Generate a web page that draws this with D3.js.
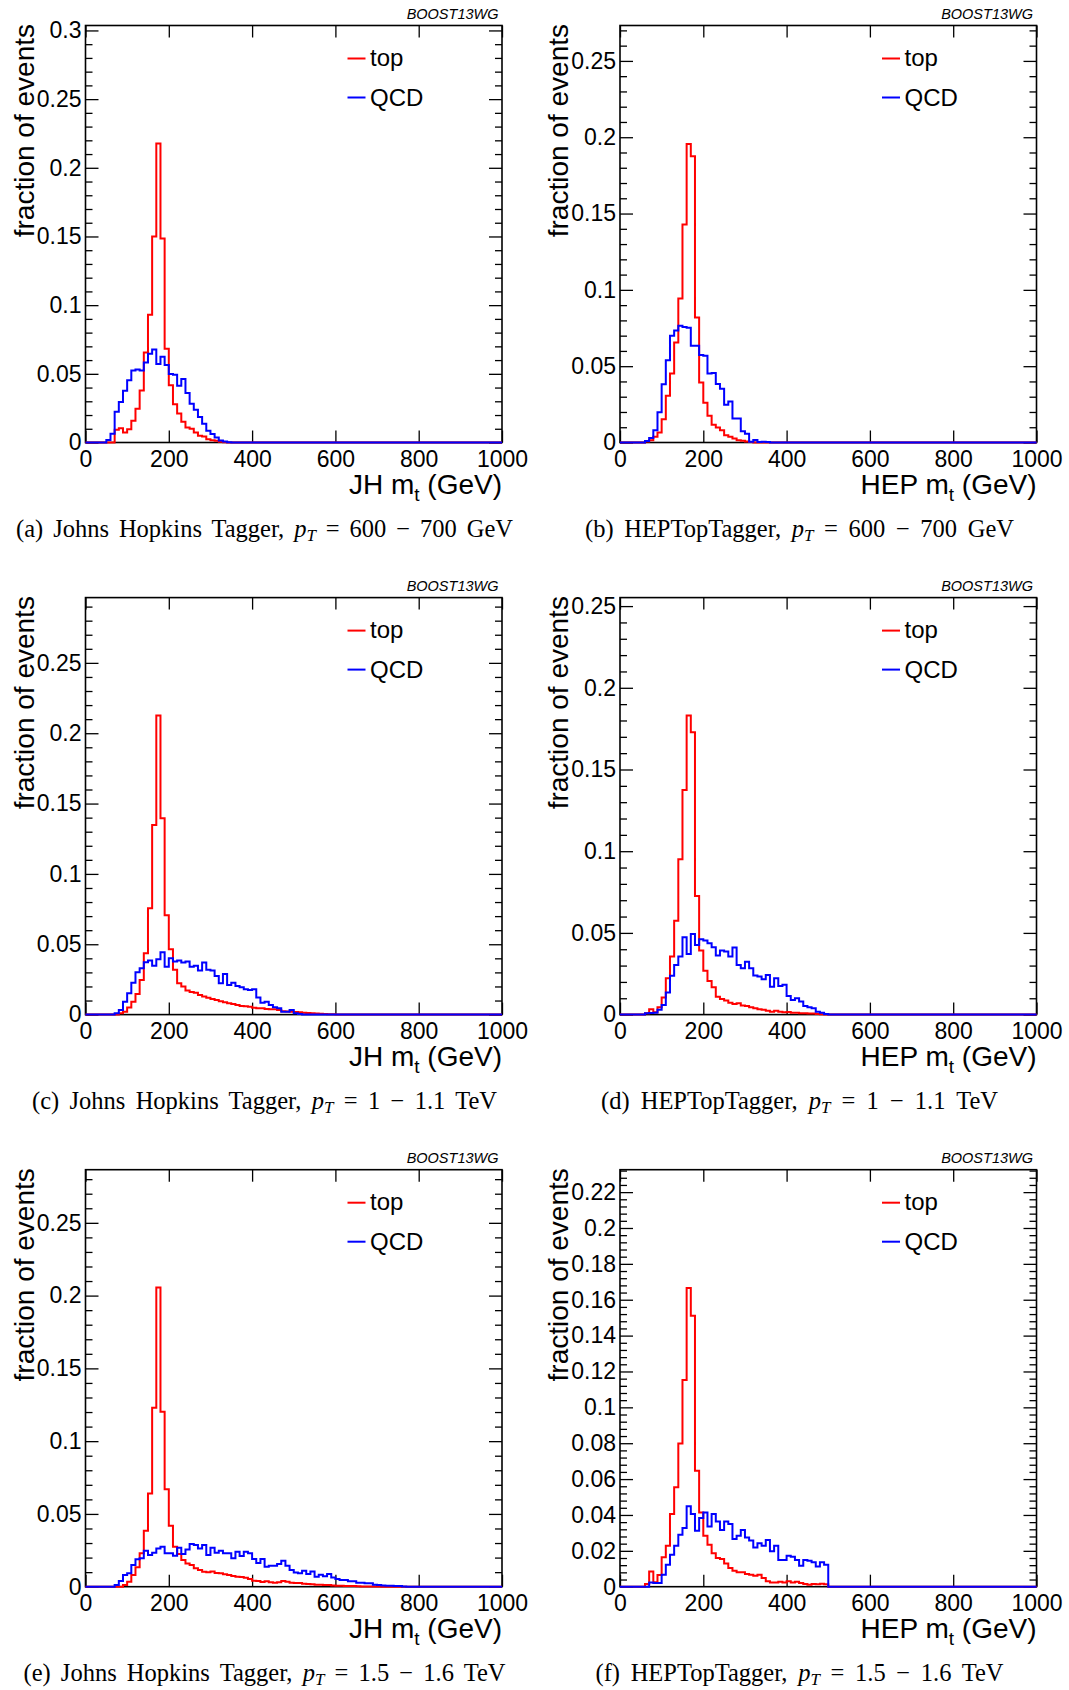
<!DOCTYPE html>
<html>
<head>
<meta charset="utf-8">
<script src="https://cdn.jsdelivr.net/npm/d3@7"></script>
<style>
body { margin: 0; background: #fff; }
svg text { font-family: "Liberation Sans", Arial, sans-serif; }
</style>
</head>
<body>
<div id="fig"></div>
<script>
// --- data: fraction of events per 10 GeV mass bin, values start at *Start (GeV) ---
const binWidth = 10, massMax = 1000;
const xTickValues = [0, 200, 400, 600, 800, 1000];

const jh600TopStart = 70;
const jh600Top = [0.0092, 0.0104, 0.0073, 0.0097, 0.0158, 0.0245, 0.0379, 0.0656, 0.0931, 0.1499, 0.2177, 0.1485,
  0.0683, 0.0416, 0.0279, 0.0211, 0.0151, 0.0109, 0.0100, 0.0073, 0.0049, 0.0044, 0.0024, 0.0017, 0.0012, 0.0005, 0.0002];
const jh600QcdStart = 50;
const jh600Qcd = [0.0019, 0.0063, 0.0224, 0.0294, 0.0377, 0.0454, 0.0525, 0.0532, 0.0525, 0.0583, 0.0646, 0.0678,
  0.0571, 0.0625, 0.0564, 0.0498, 0.0493, 0.0413, 0.0462, 0.0360, 0.0282, 0.0238, 0.0185, 0.0136, 0.0085, 0.0061,
  0.0036, 0.0015, 0.0007, 0.0002];

const hep600TopStart = 60;
const hep600Top = [0.0007, 0.0015, 0.0037, 0.0066, 0.0153, 0.0306, 0.0452, 0.0655, 0.0943, 0.1428, 0.1955, 0.1876,
  0.0819, 0.0393, 0.0260, 0.0175, 0.0116, 0.0098, 0.0081, 0.0048, 0.0037, 0.0026, 0.0015, 0.0011, 0.0007, 0.0004];
const hep600QcdStart = 60;
const hep600Qcd = [0.0010, 0.0030, 0.0080, 0.0198, 0.0382, 0.0539, 0.0699, 0.0733, 0.0765, 0.0756, 0.0751, 0.0634,
  0.0634, 0.0574, 0.0568, 0.0452, 0.0456, 0.0383, 0.0352, 0.0248, 0.0268, 0.0158, 0.0157, 0.0073, 0.0058, 0.0005,
  0.0016, 0.0004, 0.0005, 0.0003];

const jh1000TopStart = 80;
const jh1000Top = [0.0010, 0.0020, 0.0050, 0.0092, 0.0147, 0.0246, 0.0436, 0.0756, 0.1348, 0.2126, 0.1396, 0.0706,
  0.0464, 0.0318, 0.0223, 0.0200, 0.0171, 0.0160, 0.0156, 0.0140, 0.0128, 0.0120, 0.0110, 0.0104, 0.0095, 0.0088,
  0.0080, 0.0075, 0.0068, 0.0062, 0.0060, 0.0055, 0.0048, 0.0045, 0.0045, 0.0040, 0.0038, 0.0038, 0.0032, 0.0024,
  0.0022, 0.0021, 0.0018, 0.0016, 0.0014, 0.0012, 0.0010, 0.0008, 0.0006, 0.0004, 0.0003, 0.0002];
const jh1000QcdStart = 70;
const jh1000Qcd = [0.0009, 0.0033, 0.0092, 0.0152, 0.0227, 0.0301, 0.0329, 0.0372, 0.0384, 0.0348, 0.0393, 0.0443,
  0.0341, 0.0400, 0.0377, 0.0384, 0.0370, 0.0377, 0.0341, 0.0348, 0.0313, 0.0370, 0.0318, 0.0313, 0.0275, 0.0223,
  0.0289, 0.0211, 0.0227, 0.0204, 0.0194, 0.0180, 0.0175, 0.0180, 0.0121, 0.0085, 0.0092, 0.0069, 0.0052, 0.0045,
  0.0021, 0.0021, 0.0033, 0.0009, 0.0005];

const hep1000TopStart = 60;
const hep1000Top = [0.0008, 0.0033, 0.0014, 0.0045, 0.0104, 0.0222, 0.0355, 0.0575, 0.0951, 0.1375, 0.1830, 0.1728,
  0.0726, 0.0392, 0.0269, 0.0206, 0.0167, 0.0110, 0.0096, 0.0086, 0.0073, 0.0065, 0.0069, 0.0055, 0.0053, 0.0045,
  0.0039, 0.0033, 0.0029, 0.0024, 0.0018, 0.0024, 0.0018, 0.0014, 0.0016, 0.0012, 0.0012, 0.0008, 0.0008, 0.0006,
  0.0006, 0.0004, 0.0002];
const hep1000QcdStart = 60;
const hep1000Qcd = [0.0008, 0.0010, 0.0012, 0.0029, 0.0059, 0.0135, 0.0237, 0.0304, 0.0355, 0.0473, 0.0371, 0.0494,
  0.0426, 0.0461, 0.0453, 0.0437, 0.0412, 0.0361, 0.0392, 0.0386, 0.0355, 0.0410, 0.0304, 0.0284, 0.0324, 0.0284,
  0.0239, 0.0233, 0.0216, 0.0243, 0.0171, 0.0222, 0.0175, 0.0182, 0.0114, 0.0090, 0.0100, 0.0080, 0.0053, 0.0045,
  0.0039, 0.0018, 0.0012, 0.0004];

const jh1500TopStart = 90;
const jh1500Top = [0.0011, 0.0034, 0.0080, 0.0133, 0.0229, 0.0385, 0.0641, 0.1230, 0.2056, 0.1202, 0.0669, 0.0419,
  0.0275, 0.0224, 0.0183, 0.0160, 0.0149, 0.0126, 0.0114, 0.0102, 0.0100, 0.0104, 0.0094, 0.0092, 0.0085, 0.0080,
  0.0073, 0.0069, 0.0066, 0.0062, 0.0053, 0.0041, 0.0039, 0.0032, 0.0037, 0.0030, 0.0027, 0.0030, 0.0039, 0.0034,
  0.0027, 0.0025, 0.0025, 0.0021, 0.0018, 0.0016, 0.0014, 0.0014, 0.0011, 0.0011, 0.0009, 0.0007, 0.0007, 0.0005,
  0.0005, 0.0005, 0.0003, 0.0002, 0.0002, 0.0002, 0.0001, 0.0001];
const jh1500QcdStart = 70;
const jh1500Qcd = [0.0011, 0.0039, 0.0080, 0.0092, 0.0149, 0.0188, 0.0195, 0.0247, 0.0218, 0.0234, 0.0263, 0.0275,
  0.0229, 0.0229, 0.0213, 0.0268, 0.0224, 0.0256, 0.0293, 0.0286, 0.0263, 0.0286, 0.0218, 0.0268, 0.0234, 0.0247,
  0.0229, 0.0229, 0.0195, 0.0240, 0.0211, 0.0240, 0.0229, 0.0190, 0.0163, 0.0190, 0.0137, 0.0144, 0.0144, 0.0156,
  0.0179, 0.0144, 0.0114, 0.0098, 0.0092, 0.0110, 0.0087, 0.0105, 0.0069, 0.0082, 0.0071, 0.0087, 0.0064, 0.0053,
  0.0046, 0.0046, 0.0037, 0.0037, 0.0027, 0.0027, 0.0023, 0.0023, 0.0014, 0.0011, 0.0009, 0.0007, 0.0007, 0.0005,
  0.0005, 0.0002];

const hep1500TopStart = 60;
const hep1500Top = [0.0015, 0.0085, 0.0025, 0.0065, 0.0164, 0.0229, 0.0405, 0.0554, 0.0799, 0.1152, 0.1665, 0.1511,
  0.0647, 0.0414, 0.0284, 0.0234, 0.0186, 0.0160, 0.0154, 0.0130, 0.0104, 0.0089, 0.0080, 0.0080, 0.0071, 0.0067,
  0.0061, 0.0067, 0.0048, 0.0030, 0.0024, 0.0024, 0.0028, 0.0024, 0.0030, 0.0024, 0.0028, 0.0020, 0.0015, 0.0011,
  0.0015, 0.0013, 0.0017, 0.0013];
const hep1500QcdStart = 70;
const hep1500Qcd = [0.0024, 0.0020, 0.0020, 0.0067, 0.0123, 0.0178, 0.0229, 0.0290, 0.0327, 0.0448, 0.0405, 0.0312,
  0.0383, 0.0414, 0.0335, 0.0405, 0.0364, 0.0316, 0.0364, 0.0349, 0.0266, 0.0284, 0.0316, 0.0275, 0.0257, 0.0219,
  0.0242, 0.0229, 0.0260, 0.0197, 0.0229, 0.0149, 0.0149, 0.0173, 0.0167, 0.0149, 0.0117, 0.0149, 0.0145, 0.0136,
  0.0112, 0.0136, 0.0123];

const panelLetters = ["(a)", "(b)", "(c)", "(d)", "(e)", "(f)"];
const taggerTitles = ["JH", "HEP", "JH", "HEP", "JH", "HEP"];
const taggerNames = ["Johns Hopkins Tagger", "HEPTopTagger", "Johns Hopkins Tagger", "HEPTopTagger",
  "Johns Hopkins Tagger", "HEPTopTagger"];
const ptRanges = ["600 \u2212 700 GeV", "600 \u2212 700 GeV", "1 \u2212 1.1 TeV", "1 \u2212 1.1 TeV",
  "1.5 \u2212 1.6 TeV", "1.5 \u2212 1.6 TeV"];
const yAxisMax = [0.3036, 0.2732, 0.2964, 0.2552, 0.2865, 0.2325];
const yMajorStep = [0.05, 0.05, 0.05, 0.05, 0.05, 0.02];

// --- layout ---
const width = 1069, height = 1690;
const colLeft = [85.5, 620];
const rowBottom = [442.5, 1014.6, 1586.7];
const plotW = 416.5, plotH = 417;
const captionCenter = [264.5, 799.5];
const captionWidth = [497, 429, 465, 397, 482, 408];

const panels = [
  {top: jh600Top, topStart: jh600TopStart, qcd: jh600Qcd, qcdStart: jh600QcdStart},
  {top: hep600Top, topStart: hep600TopStart, qcd: hep600Qcd, qcdStart: hep600QcdStart},
  {top: jh1000Top, topStart: jh1000TopStart, qcd: jh1000Qcd, qcdStart: jh1000QcdStart},
  {top: hep1000Top, topStart: hep1000TopStart, qcd: hep1000Qcd, qcdStart: hep1000QcdStart},
  {top: jh1500Top, topStart: jh1500TopStart, qcd: jh1500Qcd, qcdStart: jh1500QcdStart},
  {top: hep1500Top, topStart: hep1500TopStart, qcd: hep1500Qcd, qcdStart: hep1500QcdStart}
];

function fullBins(start, vals) {
  const n = massMax / binWidth, off = start / binWidth;
  const pts = d3.range(n).map(i => [i * binWidth, (i - off >= 0 && i - off < vals.length) ? vals[i - off] : 0]);
  pts.push([massMax, 0]);
  return pts;
}

function styleAxis(g, fontSize) {
  g.select('path.domain').remove();
  g.selectAll('line').attr('stroke', '#000').attr('stroke-width', 1.3);
  g.attr('font-family', null).attr('font-size', fontSize);
  g.selectAll('text').attr('fill', '#000');
}

function drawPanel(svg, p, i) {
  const col = i % 2, row = Math.floor(i / 2);
  const left = colLeft[col], bottom = rowBottom[row], top = bottom - plotH, right = left + plotW;
  const x = d3.scaleLinear().domain([0, massMax]).range([left, right]);
  const y = d3.scaleLinear().domain([0, yAxisMax[i]]).range([bottom, top]);

  const step = yMajorStep[i], minor = step / 5;
  const nMaj = Math.floor(yAxisMax[i] / step + 1e-6);
  const majors = d3.range(nMaj + 1).map(k => +(k * step).toFixed(4));
  const nMin = Math.floor(yAxisMax[i] / minor + 1e-6);
  const minors = d3.range(nMin + 1).filter(k => k % 5 !== 0).map(k => k * minor);
  const fmt = v => String(+v.toFixed(4));

  // frame
  svg.append('rect')
    .attr('x', left).attr('y', top).attr('width', plotW).attr('height', plotH)
    .attr('fill', 'none').attr('stroke', '#000').attr('stroke-width', 1.6);

  // axes (ROOT style: ticks point inward)
  svg.append('g').attr('transform', 'translate(' + left + ',0)')
    .call(d3.axisLeft(y).tickValues(majors).tickSize(-13).tickPadding(4).tickFormat(fmt))
    .call(g => styleAxis(g, 23));
  svg.append('g').attr('transform', 'translate(' + left + ',0)')
    .call(d3.axisLeft(y).tickValues(minors).tickSize(-7).tickFormat(''))
    .call(g => styleAxis(g, 23));
  svg.append('g').attr('transform', 'translate(' + right + ',0)')
    .call(d3.axisRight(y).tickValues(majors).tickSize(-13).tickFormat(''))
    .call(g => styleAxis(g, 23));
  svg.append('g').attr('transform', 'translate(' + right + ',0)')
    .call(d3.axisRight(y).tickValues(minors).tickSize(-7).tickFormat(''))
    .call(g => styleAxis(g, 23));
  svg.append('g').attr('transform', 'translate(0,' + bottom + ')')
    .call(d3.axisBottom(x).tickValues(xTickValues).tickSize(-12).tickPadding(8).tickFormat(d3.format('d')))
    .call(g => styleAxis(g, 23));
  svg.append('g').attr('transform', 'translate(0,' + top + ')')
    .call(d3.axisTop(x).tickValues(xTickValues).tickSize(-12).tickFormat(''))
    .call(g => styleAxis(g, 23));

  // histograms
  const line = d3.line().x(d => x(d[0])).y(d => y(d[1])).curve(d3.curveStepAfter);
  svg.append('path').datum(fullBins(p.topStart, p.top))
    .attr('d', line).attr('fill', 'none').attr('stroke', '#ff0000').attr('stroke-width', 2);
  svg.append('path').datum(fullBins(p.qcdStart, p.qcd))
    .attr('d', line).attr('fill', 'none').attr('stroke', '#0000ff').attr('stroke-width', 2);

  // legend
  const leg = [['top', '#ff0000', 33, 40], ['QCD', '#0000ff', 72, 80.5]];
  leg.forEach(l => {
    svg.append('line').attr('x1', left + 262).attr('x2', left + 280)
      .attr('y1', top + l[2]).attr('y2', top + l[2])
      .attr('stroke', l[1]).attr('stroke-width', 2);
    svg.append('text').attr('x', left + 284.5).attr('y', top + l[3])
      .attr('font-size', 24).text(l[0]);
  });

  // group label
  svg.append('text').attr('x', left + 413).attr('y', top - 6.6)
    .attr('text-anchor', 'end').attr('font-size', 14.5).attr('font-style', 'italic')
    .text('BOOST13WG');

  // axis titles
  const xt = svg.append('text').attr('x', right).attr('y', bottom + 51.5)
    .attr('text-anchor', 'end').attr('font-size', 28);
  xt.append('tspan').text(taggerTitles[i] + ' m');
  xt.append('tspan').attr('font-size', 19).attr('dy', 7).text('t');
  xt.append('tspan').attr('dy', -7).text(' (GeV)');

  svg.append('text')
    .attr('transform', 'translate(' + (left - 52) + ',' + (top - 1.5) + ') rotate(-90)')
    .attr('text-anchor', 'end').attr('font-size', 28)
    .text('fraction of events');

  // caption
  const cap = svg.append('text').attr('x', captionCenter[col]).attr('y', bottom + 94)
    .attr('text-anchor', 'middle').attr('font-size', 24.5)
    .style('font-family', '"Liberation Serif", "DejaVu Serif", serif');
  cap.append('tspan').text(panelLetters[i] + ' ' + taggerNames[i] + ', ');
  cap.append('tspan').attr('font-style', 'italic').text('p');
  cap.append('tspan').attr('font-style', 'italic').attr('font-size', 17).attr('dy', 4).text('T');
  cap.append('tspan').attr('dy', -4).text(' = ' + ptRanges[i]);
  const natural = cap.node().getComputedTextLength();
  const nSpaces = cap.text().split(' ').length - 1;
  cap.attr('word-spacing', (captionWidth[i] - natural) / nSpaces);
}

const svg = d3.select('#fig').append('svg')
  .attr('width', width).attr('height', height)
  .attr('viewBox', '0 0 ' + width + ' ' + height);

panels.forEach((p, i) => drawPanel(svg, p, i));
</script>
</body>
</html>
